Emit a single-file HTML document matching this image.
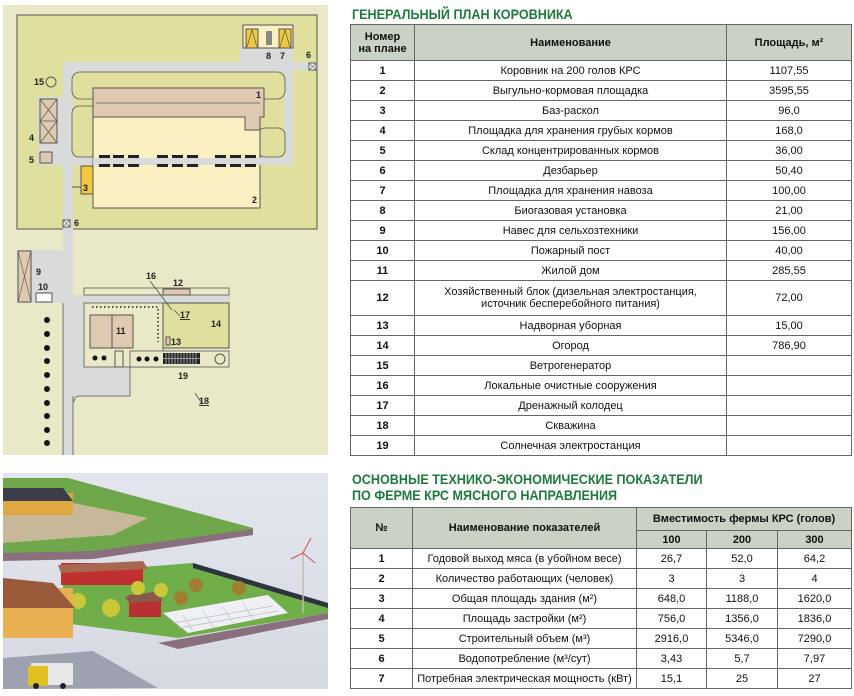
<!DOCTYPE html>
<html><head><meta charset="utf-8"><style>
body{margin:0;width:854px;height:696px;background:#fff;position:relative;overflow:hidden;font-family:"Liberation Sans Narrow","Liberation Sans",sans-serif;}
.t{position:absolute;border-collapse:collapse;table-layout:fixed;font-size:11px;color:#111;}
.t td{border:1px solid #666;text-align:center;padding:0;line-height:12px;}
.t .h td{background:#c9d2c5;font-weight:bold;}
.t td.n{font-weight:bold;}
.title{position:absolute;left:352px;color:#1d7a3c;font-weight:bold;font-size:14px;line-height:16px;transform:scaleX(.9);transform-origin:left;}
</style></head><body>
<svg style="position:absolute;left:0;top:0" width="340" height="465" font-family="Liberation Sans, sans-serif" font-weight="bold" font-size="9" fill="#222">
<rect x="3" y="5" width="325" height="450" fill="#e9e9c7"/>
<rect x="17" y="15" width="300" height="214" fill="#e0df9d" stroke="#555" stroke-width="1"/>
<g fill="#d8dbda">
<rect x="63" y="62" width="230" height="10"/><rect x="63" y="62" width="10" height="393"/>
<rect x="38" y="97" width="35" height="68"/><rect x="284" y="62" width="9" height="103"/>
<rect x="72" y="157" width="221" height="8"/><rect x="240" y="46" width="53" height="18"/>
<rect x="293" y="62" width="24" height="8"/>
<rect x="17" y="250" width="56" height="53"/><rect x="73" y="295" width="157" height="8"/>
<rect x="73" y="300" width="57" height="96"/>
</g>
<line x1="73" y1="396" x2="73" y2="455" stroke="#555" stroke-width=".8"/>
<line x1="63" y1="303" x2="63" y2="455" stroke="#555" stroke-width=".8"/>
<path d="M130 367V396H80Q74 396 74 402" fill="none" stroke="#555" stroke-width=".8"/>
<g fill="#e0df9d" stroke="#555" stroke-width="0.8">
<rect x="72" y="72" width="213" height="27" rx="8"/>
<rect x="72" y="106" width="25" height="51" rx="7"/>
<rect x="258" y="128" width="27" height="29" rx="7"/>
</g>
<g fill="#e9e9c7" stroke="#555" stroke-width="0.8">
<rect x="84" y="288" width="145" height="7"/>
<rect x="84" y="303" width="79" height="64"/>
<rect x="130" y="351" width="99" height="16"/>
</g>
<rect x="93" y="117" width="167" height="91" fill="#fbf0c2" stroke="#555"/>
<rect x="93" y="158" width="200" height="7" fill="#d8dbda"/>
<path d="M93 88H264V117H260V130H245V117H93Z" fill="#dfc9b0" stroke="#555"/>
<line x1="96" y1="103" x2="260" y2="103" stroke="#555" stroke-width=".7"/>
<g fill="#222">
<rect x="99" y="155" width="11" height="3"/><rect x="113" y="155" width="11" height="3"/><rect x="128" y="155" width="11" height="3"/>
<rect x="157" y="155" width="11" height="3"/><rect x="172" y="155" width="11" height="3"/><rect x="187" y="155" width="11" height="3"/>
<rect x="215" y="155" width="11" height="3"/><rect x="230" y="155" width="11" height="3"/><rect x="245" y="155" width="11" height="3"/>
<rect x="99" y="164" width="11" height="3"/><rect x="113" y="164" width="11" height="3"/><rect x="128" y="164" width="11" height="3"/>
<rect x="157" y="164" width="11" height="3"/><rect x="172" y="164" width="11" height="3"/><rect x="187" y="164" width="11" height="3"/>
<rect x="215" y="164" width="11" height="3"/><rect x="230" y="164" width="11" height="3"/><rect x="245" y="164" width="11" height="3"/>
</g>
<rect x="243" y="25" width="50" height="23" fill="#fbf0c2" stroke="#555"/>
<rect x="246" y="29" width="12" height="19" fill="#f0c840" stroke="#555"/>
<rect x="279" y="29" width="12" height="19" fill="#f0c840" stroke="#555"/>
<path d="M247 47L252 30L257 47M280 47L285 30L290 47" fill="none" stroke="#555" stroke-width=".7"/>
<rect x="266" y="31" width="6" height="14" fill="#888"/>
<circle cx="51" cy="82" r="5" fill="none" stroke="#555"/>
<rect x="40" y="99" width="17" height="44" fill="#dfc9b0" stroke="#555"/>
<path d="M40 99L57 121M57 99L40 121M40 121L57 143M57 121L40 143M40 121H57" stroke="#555" stroke-width=".7"/>
<rect x="40" y="152" width="12" height="11" fill="#dfc9b0" stroke="#555"/>
<rect x="81" y="166" width="12" height="28" fill="#f0c840" stroke="#555"/>
<line x1="72" y1="187" x2="81" y2="187" stroke="#555"/>
<rect x="63" y="220" width="7" height="7" fill="#fff" stroke="#555"/><path d="M63 220l7 7M70 220l-7 7" stroke="#555" stroke-width=".6"/>
<rect x="309" y="63" width="7" height="7" fill="#fff" stroke="#555"/><path d="M309 63l7 7M316 63l-7 7" stroke="#555" stroke-width=".6"/>
<rect x="18" y="251" width="13" height="51" fill="#dfc9b0" stroke="#555"/>
<path d="M18 251L31 302M31 251L18 302" stroke="#555" stroke-width=".6"/>
<rect x="36" y="293" width="16" height="9" fill="#fff" stroke="#555"/>
<rect x="163" y="289" width="27" height="6" fill="#dfc9b0" stroke="#555"/>
<rect x="163" y="303" width="66" height="45" fill="#e0df9d" stroke="#555"/>
<rect x="90" y="315" width="43" height="33" fill="#dfc9b0" stroke="#555"/><line x1="112" y1="315" x2="112" y2="348" stroke="#555"/>
<rect x="166" y="337" width="4" height="8" fill="#dfc9b0" stroke="#555"/>
<rect x="115" y="351" width="8" height="16" fill="#e9e9c7" stroke="#555"/>
<path d="M92 307H158V342" fill="none" stroke="#222" stroke-width="1.5" stroke-dasharray="1.5 2.5"/>
<rect x="163" y="353" width="37" height="11" fill="#222"/><g stroke="#eee" stroke-width=".6"><line x1="163" y1="358.5" x2="200" y2="358.5"/><path d="M166 353v11M169 353v11M172 353v11M175 353v11M178 353v11M181 353v11M184 353v11M187 353v11M190 353v11M193 353v11M196 353v11"/></g>
<circle cx="220" cy="359" r="5" fill="none" stroke="#555"/>
<g fill="#111"><circle cx="95" cy="358" r="2.5"/><circle cx="104" cy="358" r="2.5"/><circle cx="139" cy="359" r="2.5"/><circle cx="147" cy="359" r="2.5"/><circle cx="156" cy="359" r="2.5"/>
<circle cx="47" cy="320" r="3"/><circle cx="47" cy="334" r="3"/><circle cx="47" cy="348" r="3"/><circle cx="47" cy="361" r="3"/><circle cx="47" cy="375" r="3"/><circle cx="47" cy="389" r="3"/><circle cx="47" cy="403" r="3"/><circle cx="47" cy="416" r="3"/><circle cx="47" cy="430" r="3"/><circle cx="47" cy="443" r="3"/></g>
<path d="M150 281L172 310M174 310l6 6" stroke="#444" fill="none" stroke-width=".7"/><path d="M195 393l6 9" stroke="#444" stroke-width=".7"/>
<text x="256" y="98">1</text><text x="252" y="203">2</text><text x="83" y="191">3</text><text x="29" y="141">4</text><text x="29" y="163">5</text>
<text x="266" y="59">8</text><text x="280" y="59">7</text><text x="306" y="58">6</text><text x="74" y="226">6</text>
<text x="34" y="85">15</text><text x="36" y="275">9</text><text x="38" y="290">10</text><text x="116" y="334">11</text>
<text x="173" y="286">12</text><text x="171" y="345">13</text><text x="211" y="327">14</text><text x="146" y="279">16</text>
<text x="180" y="318" text-decoration="underline">17</text><text x="199" y="404" text-decoration="underline">18</text><text x="178" y="379">19</text>
</svg>

<svg style="position:absolute;left:3px;top:473px" width="325" height="216">
<defs><linearGradient id="bg" x1="0" y1="0" x2="0" y2="1"><stop offset="0" stop-color="#e4e6ef"/><stop offset="1" stop-color="#d6d8e2"/></linearGradient></defs>
<rect width="325" height="216" fill="url(#bg)"/>
<polygon points="0,5 65,5 250,55 250,62 90,80 0,82" fill="#6fa84a"/>
<polygon points="0,30 70,30 145,45 110,62 0,70" fill="#c8b89a"/>
<polygon points="0,80 90,78 250,56 250,62 90,86 0,88" fill="#8a6f7f"/>
<rect x="0" y="20" width="70" height="22" fill="#e0a840"/><polygon points="0,15 60,15 70,28 0,28" fill="#3d3d4a"/>
<polygon points="60,100 190,90 325,130 325,140 175,165 60,150" fill="#6fae48"/>
<polygon points="155,170 325,140 325,146 175,176" fill="#8a6f7f"/>
<polygon points="190,90 325,130 325,135 190,95" fill="#2e3340"/>
<polygon points="160,140 265,122 285,140 185,160" fill="#eef0f5"/>
<g stroke="#bbb" stroke-width=".7"><path d="M170,150l100,-17M175,155l100,-17M180,142l10,16M200,138l10,16M220,134l10,16M240,130l10,16"/></g>
<rect x="58" y="90" width="82" height="22" fill="#c03030"/><polygon points="55,92 140,88 145,96 58,100" fill="#a8684f"/>
<rect x="126" y="122" width="32" height="22" fill="#b83030"/><polygon points="122,124 155,118 160,128 126,130" fill="#8a5a48"/>
<circle cx="75" cy="128" r="8" fill="#c8c838"/><circle cx="108" cy="135" r="9" fill="#c8c838"/><circle cx="135" cy="115" r="7" fill="#c8c838"/><circle cx="158" cy="117" r="7" fill="#c8c838"/><circle cx="193" cy="112" r="7" fill="#a08030"/><circle cx="236" cy="115" r="7" fill="#a08030"/><circle cx="178" cy="125" r="7" fill="#a08030"/>
<rect x="0" y="115" width="70" height="50" fill="#e8b050"/><polygon points="0,105 50,110 72,135 0,135" fill="#9a5a3a"/>
<polygon points="0,185 90,178 155,215 0,216" fill="#9ea2b0"/>
<rect x="28" y="190" width="42" height="22" fill="#e8e8e8"/><rect x="25" y="193" width="20" height="20" fill="#e0c020"/>
<circle cx="33" cy="213" r="3" fill="#222"/><circle cx="60" cy="213" r="3" fill="#222"/>
<line x1="300" y1="80" x2="300" y2="140" stroke="#bbb" stroke-width="1.5"/><path d="M300 80l8 -15M300 80l-12 6M300 80l12 10" stroke="#d05050" stroke-width="1"/>
</svg>

<div class="title" style="top:6px">ГЕНЕРАЛЬНЫЙ ПЛАН КОРОВНИКА</div>
<table class="t" style="left:350px;top:24px;width:501px">
<colgroup><col style="width:64px"><col style="width:312px"><col style="width:125px"></colgroup>
<tr class="h" style="height:36px"><td>Номер<br>на плане</td><td>Наименование</td><td>Площадь, м²</td></tr>
<tr style="height:20px"><td class="n">1</td><td>Коровник на 200 голов КРС</td><td>1107,55</td></tr>
<tr style="height:20px"><td class="n">2</td><td>Выгульно-кормовая площадка</td><td>3595,55</td></tr>
<tr style="height:20px"><td class="n">3</td><td>Баз-раскол</td><td>96,0</td></tr>
<tr style="height:20px"><td class="n">4</td><td>Площадка для хранения грубых кормов</td><td>168,0</td></tr>
<tr style="height:20px"><td class="n">5</td><td>Склад концентрированных кормов</td><td>36,00</td></tr>
<tr style="height:20px"><td class="n">6</td><td>Дезбарьер</td><td>50,40</td></tr>
<tr style="height:20px"><td class="n">7</td><td>Площадка для хранения навоза</td><td>100,00</td></tr>
<tr style="height:20px"><td class="n">8</td><td>Биогазовая установка</td><td>21,00</td></tr>
<tr style="height:20px"><td class="n">9</td><td>Навес для сельхозтехники</td><td>156,00</td></tr>
<tr style="height:20px"><td class="n">10</td><td>Пожарный пост</td><td>40,00</td></tr>
<tr style="height:20px"><td class="n">11</td><td>Жилой дом</td><td>285,55</td></tr>
<tr style="height:35px"><td class="n">12</td><td>Хозяйственный блок (дизельная электростанция,<br>источник бесперебойного питания)</td><td>72,00</td></tr>
<tr style="height:20px"><td class="n">13</td><td>Надворная уборная</td><td>15,00</td></tr>
<tr style="height:20px"><td class="n">14</td><td>Огород</td><td>786,90</td></tr>
<tr style="height:20px"><td class="n">15</td><td>Ветрогенератор</td><td></td></tr>
<tr style="height:20px"><td class="n">16</td><td>Локальные очистные сооружения</td><td></td></tr>
<tr style="height:20px"><td class="n">17</td><td>Дренажный колодец</td><td></td></tr>
<tr style="height:20px"><td class="n">18</td><td>Скважина</td><td></td></tr>
<tr style="height:20px"><td class="n">19</td><td>Солнечная электростанция</td><td></td></tr>
</table>

<div class="title" style="top:471px">ОСНОВНЫЕ ТЕХНИКО-ЭКОНОМИЧЕСКИЕ ПОКАЗАТЕЛИ<br>ПО ФЕРМЕ КРС МЯСНОГО НАПРАВЛЕНИЯ</div>
<table class="t" style="left:350px;top:507px;width:501px">
<colgroup><col style="width:62px"><col style="width:224px"><col style="width:70px"><col style="width:71px"><col style="width:74px"></colgroup>
<tr class="h" style="height:23px"><td rowspan="2">№</td><td rowspan="2">Наименование показателей</td><td colspan="3">Вместимость фермы КРС (голов)</td></tr>
<tr class="h" style="height:18px"><td>100</td><td>200</td><td>300</td></tr>
<tr style="height:20px"><td class="n">1</td><td>Годовой выход мяса (в убойном весе)</td><td>26,7</td><td>52,0</td><td>64,2</td></tr>
<tr style="height:20px"><td class="n">2</td><td>Количество работающих (человек)</td><td>3</td><td>3</td><td>4</td></tr>
<tr style="height:20px"><td class="n">3</td><td>Общая площадь здания (м²)</td><td>648,0</td><td>1188,0</td><td>1620,0</td></tr>
<tr style="height:20px"><td class="n">4</td><td>Площадь застройки (м²)</td><td>756,0</td><td>1356,0</td><td>1836,0</td></tr>
<tr style="height:20px"><td class="n">5</td><td>Строительный объем (м³)</td><td>2916,0</td><td>5346,0</td><td>7290,0</td></tr>
<tr style="height:20px"><td class="n">6</td><td>Водопотребление (м³/сут)</td><td>3,43</td><td>5,7</td><td>7,97</td></tr>
<tr style="height:20px"><td class="n">7</td><td>Потребная электрическая мощность (кВт)</td><td>15,1</td><td>25</td><td>27</td></tr>
</table>
</body></html>
